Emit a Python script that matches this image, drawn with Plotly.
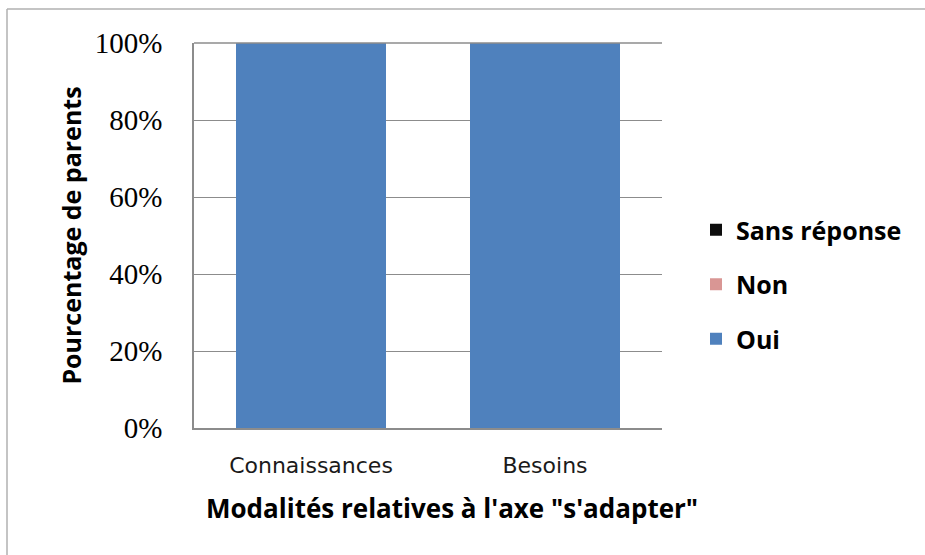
import plotly.graph_objects as go

categories = ["Connaissances", "Besoins"]
oui = [100, 100]
non = [0, 0]
sans_reponse = [0, 0]
y_ticks = [0, 20, 40, 60, 80, 100]
y_tick_labels = ["0%", "20%", "40%", "60%", "80%", "100%"]
x_title = "Modalités relatives à l'axe \"s'adapter\""

W, H = 925, 555
L, R, T, B = 194, 263, 43, 127
pw, ph = W - L - R, H - T - B


def px_x(x):
    return (x - L) / pw


def px_y(y):
    return (H - B - y) / ph


fig = go.Figure()
series = [
    ("Oui", oui, "#4F81BD", 3),
    ("Non", non, "#D99694", 2),
    ("Sans réponse", sans_reponse, "#0D0D0D", 1),
]
for name, vals, col, rank in series:
    fig.add_trace(go.Bar(
        x=categories, y=vals, name=name, legendgroup=name, legendrank=rank,
        marker=dict(color=col, line=dict(width=0)),
        width=0.64,
    ))

fig.update_layout(
    width=W, height=H,
    margin=dict(l=L, r=R, t=T, b=B),
    barmode="stack",
    plot_bgcolor="white", paper_bgcolor="white",
    showlegend=True,
    legend=dict(
        x=px_x(696), y=px_y(207), xanchor="left", yanchor="top",
        traceorder="grouped", tracegroupgap=19,
        font=dict(family="Open Sans", size=25, color="black", weight="bold"),
        itemwidth=30,
    ),
    xaxis=dict(
        showgrid=False, showline=True, linecolor="#8C8C8C", linewidth=1.5,
        ticks="", tickfont=dict(family="DejaVu Sans", size=22, color="#1a1a1a"),
        ticklabelstandoff=17,
    ),
    yaxis=dict(
        range=[0, 100], tickvals=y_ticks, ticktext=y_tick_labels,
        showgrid=True, gridcolor="#8C8C8C", gridwidth=1.2,
        showline=True, linecolor="#8C8C8C", linewidth=1.5,
        ticks="", tickfont=dict(family="Liberation Serif", size=29, color="black"),
        ticklabelstandoff=24,
        title=dict(text="Pourcentage de parents",
                   font=dict(family="Open Sans", size=25, color="black", weight="bold"),
                   standoff=6),
    ),
    annotations=[
        dict(text=x_title, xref="paper", yref="paper",
             x=px_x(452), y=px_y(508), xanchor="center", yanchor="middle",
             showarrow=False,
             font=dict(family="Open Sans", size=26, color="black", weight="bold")),
    ],
    shapes=[
        dict(type="line", xref="paper", yref="paper",
             x0=px_x(7), x1=px_x(W), y0=px_y(9), y1=px_y(9),
             line=dict(color="#B0B0B0", width=1.5)),
        dict(type="line", xref="paper", yref="paper",
             x0=px_x(7), x1=px_x(7), y0=px_y(9), y1=px_y(H),
             line=dict(color="#B0B0B0", width=1.5)),
        dict(type="line", xref="paper", yref="paper",
             x0=0, x1=1, y0=1, y1=1,
             line=dict(color="#8C8C8C", width=1.5)),
    ],
)

fig.write_html("out.html")
